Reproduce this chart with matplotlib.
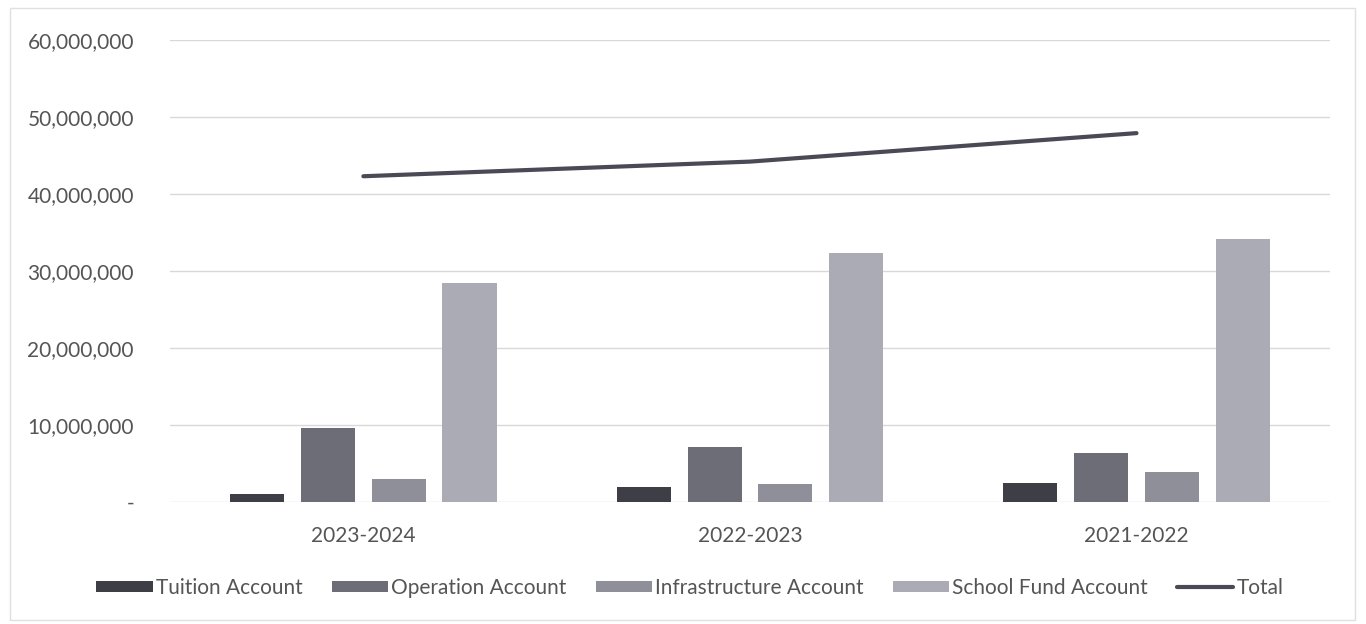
import numpy as np
import matplotlib.pyplot as plt
from matplotlib.ticker import FuncFormatter
from matplotlib.patches import Rectangle

years = ['2023-2024', '2022-2023', '2021-2022']
tuition = [1.0e6, 2.0e6, 2.5e6]
operation = [9.6e6, 7.1e6, 6.3e6]
infrastructure = [3.0e6, 2.35e6, 3.9e6]
school_fund = [28.4e6, 32.3e6, 34.2e6]
total = [42.3e6, 44.2e6, 47.9e6]

series = [
    ('Tuition Account', tuition, '#3e3e46'),
    ('Operation Account', operation, '#6d6d77'),
    ('Infrastructure Account', infrastructure, '#8f8f99'),
    ('School Fund Account', school_fund, '#ababb5'),
]

plt.rcParams['font.family'] = ['Lato', 'DejaVu Sans']
text_color = '#555555'

fig = plt.figure(figsize=(13.66, 6.24), dpi=100)
ax = fig.add_axes([0.1245, 0.1955, 0.849, 0.7405])

x = np.arange(len(years))
step = 0.183
width = 0.14
for i, (name, vals, col) in enumerate(series):
    ax.bar(x + (i - 1.5) * step, vals, width, color=col, label=name, zorder=3)

ax.plot(x, total, color='#4a4a56', lw=3, label='Total', zorder=4,
        solid_capstyle='round')

ax.set_xlim(-0.5, 2.5)
ax.set_ylim(0, 60e6)
ax.set_yticks(np.arange(0, 60e6 + 1, 10e6))
ax.yaxis.set_major_formatter(FuncFormatter(lambda v, p: '-' if v == 0 else f'{v:,.0f}'))
ax.set_xticks(x)
ax.set_xticklabels(years)
ax.grid(axis='y', color='#d9d9d9', lw=1, zorder=0)
for s in ax.spines.values():
    s.set_visible(False)
ax.tick_params(length=0, labelsize=15, colors=text_color)
ax.tick_params(axis='y', pad=26)
ax.tick_params(axis='x', pad=17)

# bars first, total line last in the legend
handles, labels = ax.get_legend_handles_labels()
order = [1, 2, 3, 4, 0]
fig.legend([handles[i] for i in order], [labels[i] for i in order],
           loc='center', bbox_to_anchor=(0.505, 0.058), ncol=5, frameon=False,
           fontsize=15, handlelength=2.7, handleheight=0.45,
           columnspacing=1.4, handletextpad=0.15, labelcolor=text_color)

# faint outer frame of the chart area
fig.patches.append(Rectangle((0.007, 0.007), 0.985, 0.98, transform=fig.transFigure,
                             fill=False, edgecolor='#e0e0e0', lw=1))

fig.savefig('out.png', dpi=100)
